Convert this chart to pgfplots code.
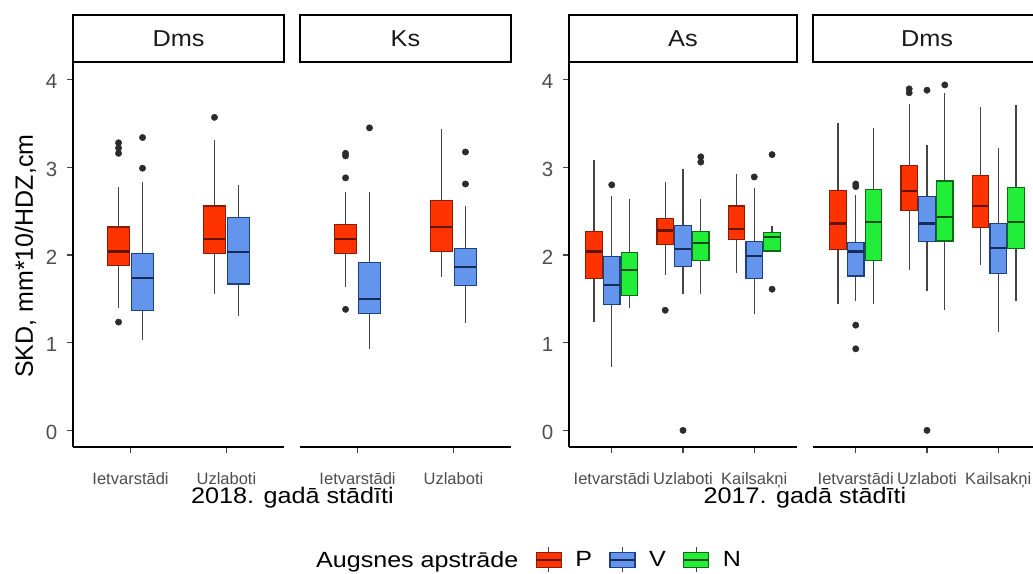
\documentclass[border=0pt]{standalone}
\usepackage{fontspec}
\setmainfont{Liberation Sans}
\usepackage{graphicx}
\usepackage{pgfplots}
\pgfplotsset{compat=1.18}
\usepgfplotslibrary{statistics}

\definecolor{colP}{HTML}{FF3300}
\definecolor{colPd}{HTML}{8A1C00}
\definecolor{colV}{HTML}{6495ED}
\definecolor{colVd}{HTML}{1E3F80}
\definecolor{colN}{HTML}{22EE3A}
\definecolor{colNd}{HTML}{0B6B18}
\definecolor{dotc}{HTML}{2B2B2B}
\definecolor{whc}{HTML}{444444}
\definecolor{labc}{HTML}{4D4D4D}
\definecolor{stripc}{HTML}{1A1A1A}

\newcommand{\wide}[2][1.1]{\scalebox{#1}[1]{#2}}

\pgfplotsset{
  boxplot/draw direction=y,
  boxplot/box extend=0.23,
  boxplot/whisker extend=0,
  bx/.style n args={3}{forget plot, mark=*, mark size=3.2pt,
    mark options={draw=dotc, fill=dotc},
    boxplot/every box/.style={draw=#2, fill=#1, line width=1.2pt},
    boxplot/every median/.style={draw=#3, line width=2.2pt},
    boxplot/every whisker/.style={draw=whc, line width=1.2pt}},
  bP/.style={bx={colP}{colPd}{colPd!70!black}},
  bV/.style={bx={colV}{colVd}{colVd!70!black}},
  bN/.style={bx={colN}{colNd}{colNd!70!black}},
  panel/.style={
    scale only axis, height=384pt, ymin=-0.19, ymax=4.19,
    axis x line*=bottom,
    axis line style={-, line width=2pt, black},
    tick align=outside, major tick length=6pt,
    tick style={line width=1.2pt, draw=whc},
    ytick={0,1,2,3,4},
    /pgf/number format/assume math mode=true,
    xticklabel style={font=\fontsize{16.5}{18}\selectfont, text=labc,
      anchor=base, inner sep=0pt, yshift=-31pt},
    yticklabel style={font=\fontsize{20.5}{22}\selectfont, text=labc,
      anchor=east, inner sep=0pt, xshift=-9.5pt, yshift=-2pt},
    every axis title/.style={at={(0.5,1)}, anchor=south, draw=black,
      line width=2pt, minimum height=47pt, inner sep=0pt,
      font=\fontsize{23}{26}\selectfont, text=stripc},
    xlabel style={font=\fontsize{22.5}{26}\selectfont, anchor=base},
    clip=false,
  },
  keyimg/.style n args={3}{legend image code/.code={
    \draw[whc, line width=1.2pt] (12.5pt,-12.5pt) -- (12.5pt,12.5pt);
    \draw[fill=#1, draw=#2, line width=1.2pt] (0pt,-7.5pt) rectangle (25pt,7.5pt);
    \draw[#3, line width=2pt] (0pt,0pt) -- (25pt,0pt);}},
}

\begin{document}
\begin{tikzpicture}
\useasboundingbox (0pt,0pt) rectangle (1033pt,-573pt);
\clip (0pt,0pt) rectangle (1033pt,-573pt);

% 2018, Dms
\begin{axis}[panel, at={(73pt,-447pt)}, anchor=south west, width=211pt,
  xmin=0.4, xmax=2.6, xtick={1,2}, xticklabels={Ietvarstādi,Uzlaboti},
  axis y line*=left,
  title={\raisebox{-2pt}{\wide{Dms}}}, title style={minimum width=211pt},
  ylabel={SKD, mm*10/HDZ,cm},
  ylabel style={at={(axis description cs:-0.19,0.497)}, anchor=base,
    font=\fontsize{25}{28}\selectfont},
  xlabel={\wide[1.12]{2018. gadā stādīti}},
  xlabel style={at={(axis description cs:1.0403,-0.1484)}},
  legend style={at={(axis description cs:1.09,-0.294)}, anchor=west,
    legend columns=-1, draw=none, fill=none, inner sep=0pt,
    font=\fontsize{22}{26}\selectfont,
    /tikz/every odd column/.append style={column sep=11pt},
    /tikz/every even column/.append style={column sep=15pt}},
  legend cell align=left,
]
\addplot[bP, boxplot prepared={draw position=0.875, lower whisker=1.39, lower quartile=1.88, median=2.04, upper quartile=2.32, upper whisker=2.78}]
  coordinates {(0,3.28) (0,3.22) (0,3.16) (0,1.235)};
\addplot[bV, boxplot prepared={draw position=1.125, lower whisker=1.03, lower quartile=1.37, median=1.74, upper quartile=2.015, upper whisker=2.83}]
  coordinates {(0,3.34) (0,2.99)};
\addplot[bP, boxplot prepared={draw position=1.875, lower whisker=1.55, lower quartile=2.015, median=2.18, upper quartile=2.56, upper whisker=3.31}]
  coordinates {(0,3.57)};
\addplot[bV, boxplot prepared={draw position=2.125, lower whisker=1.30, lower quartile=1.67, median=2.03, upper quartile=2.43, upper whisker=2.80}]
  coordinates {};
\addlegendimage{empty legend}
\addlegendentry{\wide[1.14]{Augsnes apstrāde}}
\addlegendimage{keyimg={colP}{colPd}{colPd!70!black}}
\addlegendentry{\wide[1.14]{P}}
\addlegendimage{keyimg={colV}{colVd}{colVd!70!black}}
\addlegendentry{\wide[1.14]{V}}
\addlegendimage{keyimg={colN}{colNd}{colNd!70!black}}
\addlegendentry{\wide[1.14]{N}}
\end{axis}

% 2018, Ks
\begin{axis}[panel, at={(300pt,-447pt)}, anchor=south west, width=211pt,
  xmin=0.4, xmax=2.6, xtick={1,2}, xticklabels={Ietvarstādi,Uzlaboti},
  axis y line=none, ytick=\empty,
  title={\raisebox{-2pt}{\wide{Ks}}}, title style={minimum width=211pt},
]
\addplot[bP, boxplot prepared={draw position=0.875, lower whisker=1.63, lower quartile=2.015, median=2.18, upper quartile=2.345, upper whisker=2.72}]
  coordinates {(0,3.16) (0,3.13) (0,2.88) (0,1.38)};
\addplot[bV, boxplot prepared={draw position=1.125, lower whisker=0.93, lower quartile=1.33, median=1.50, upper quartile=1.91, upper whisker=2.715}]
  coordinates {(0,3.45)};
\addplot[bP, boxplot prepared={draw position=1.875, lower whisker=1.75, lower quartile=2.04, median=2.315, upper quartile=2.62, upper whisker=3.44}]
  coordinates {};
\addplot[bV, boxplot prepared={draw position=2.125, lower whisker=1.22, lower quartile=1.65, median=1.86, upper quartile=2.07, upper whisker=2.56}]
  coordinates {(0,3.175) (0,2.81)};
\end{axis}

% 2017, As
\begin{axis}[panel, at={(569pt,-447pt)}, anchor=south west, width=228pt,
  xmin=0.4, xmax=3.6, xtick={1,2,3}, xticklabels={Ietvarstādi,Uzlaboti,Kailsakņi},
  axis y line*=left,
  title={\raisebox{-2pt}{\wide{As}}}, title style={minimum width=228pt},
  xlabel={\wide[1.12]{2017. gadā stādīti}},
  xlabel style={at={(axis description cs:1.035,-0.1484)}},
]
\addplot[bP, boxplot prepared={draw position=0.75, lower whisker=1.24, lower quartile=1.73, median=2.04, upper quartile=2.27, upper whisker=3.08}]
  coordinates {};
\addplot[bV, boxplot prepared={draw position=1, lower whisker=0.72, lower quartile=1.44, median=1.66, upper quartile=1.98, upper whisker=2.67}]
  coordinates {(0,2.80)};
\addplot[bN, boxplot prepared={draw position=1.25, lower whisker=1.39, lower quartile=1.535, median=1.83, upper quartile=2.03, upper whisker=2.64}]
  coordinates {};
\addplot[bP, boxplot prepared={draw position=1.75, lower whisker=1.77, lower quartile=2.12, median=2.28, upper quartile=2.42, upper whisker=2.83}]
  coordinates {(0,1.37)};
\addplot[bV, boxplot prepared={draw position=2, lower whisker=1.55, lower quartile=1.87, median=2.07, upper quartile=2.34, upper whisker=2.98}]
  coordinates {(0,0.0)};
\addplot[bN, boxplot prepared={draw position=2.25, lower whisker=1.55, lower quartile=1.94, median=2.14, upper quartile=2.27, upper whisker=2.64}]
  coordinates {(0,3.12) (0,3.06)};
\addplot[bP, boxplot prepared={draw position=2.75, lower whisker=1.80, lower quartile=2.18, median=2.30, upper quartile=2.56, upper whisker=2.92}]
  coordinates {};
\addplot[bV, boxplot prepared={draw position=3, lower whisker=1.33, lower quartile=1.73, median=1.99, upper quartile=2.15, upper whisker=2.76}]
  coordinates {(0,2.89)};
\addplot[bN, boxplot prepared={draw position=3.25, lower whisker=2.045, lower quartile=2.045, median=2.205, upper quartile=2.26, upper whisker=2.33}]
  coordinates {(0,3.145) (0,1.61)};
\end{axis}

% 2017, Dms
\begin{axis}[panel, at={(813pt,-447pt)}, anchor=south west, width=228pt,
  xmin=0.4, xmax=3.6, xtick={1,2,3}, xticklabels={Ietvarstādi,Uzlaboti,Kailsakņi},
  axis y line=none, ytick=\empty,
  title={\raisebox{-2pt}{\wide{Dms}}}, title style={minimum width=228pt},
]
\addplot[bP, boxplot prepared={draw position=0.75, lower whisker=1.44, lower quartile=2.06, median=2.36, upper quartile=2.74, upper whisker=3.50}]
  coordinates {};
\addplot[bV, boxplot prepared={draw position=1, lower whisker=1.47, lower quartile=1.76, median=2.04, upper quartile=2.14, upper whisker=2.68}]
  coordinates {(0,2.81) (0,2.78) (0,1.20) (0,0.93)};
\addplot[bN, boxplot prepared={draw position=1.25, lower whisker=1.44, lower quartile=1.94, median=2.38, upper quartile=2.75, upper whisker=3.45}]
  coordinates {};
\addplot[bP, boxplot prepared={draw position=1.75, lower whisker=1.83, lower quartile=2.51, median=2.73, upper quartile=3.02, upper whisker=3.72}]
  coordinates {(0,3.895) (0,3.85)};
\addplot[bV, boxplot prepared={draw position=2, lower whisker=1.59, lower quartile=2.15, median=2.36, upper quartile=2.665, upper whisker=3.25}]
  coordinates {(0,3.88) (0,0.0)};
\addplot[bN, boxplot prepared={draw position=2.25, lower whisker=1.37, lower quartile=2.16, median=2.43, upper quartile=2.845, upper whisker=3.85}]
  coordinates {(0,3.94)};
\addplot[bP, boxplot prepared={draw position=2.75, lower whisker=1.89, lower quartile=2.315, median=2.555, upper quartile=2.905, upper whisker=3.69}]
  coordinates {};
\addplot[bV, boxplot prepared={draw position=3, lower whisker=1.12, lower quartile=1.79, median=2.08, upper quartile=2.36, upper whisker=3.22}]
  coordinates {};
\addplot[bN, boxplot prepared={draw position=3.25, lower whisker=1.47, lower quartile=2.07, median=2.38, upper quartile=2.77, upper whisker=3.71}]
  coordinates {};
\end{axis}
\end{tikzpicture}
\end{document}
